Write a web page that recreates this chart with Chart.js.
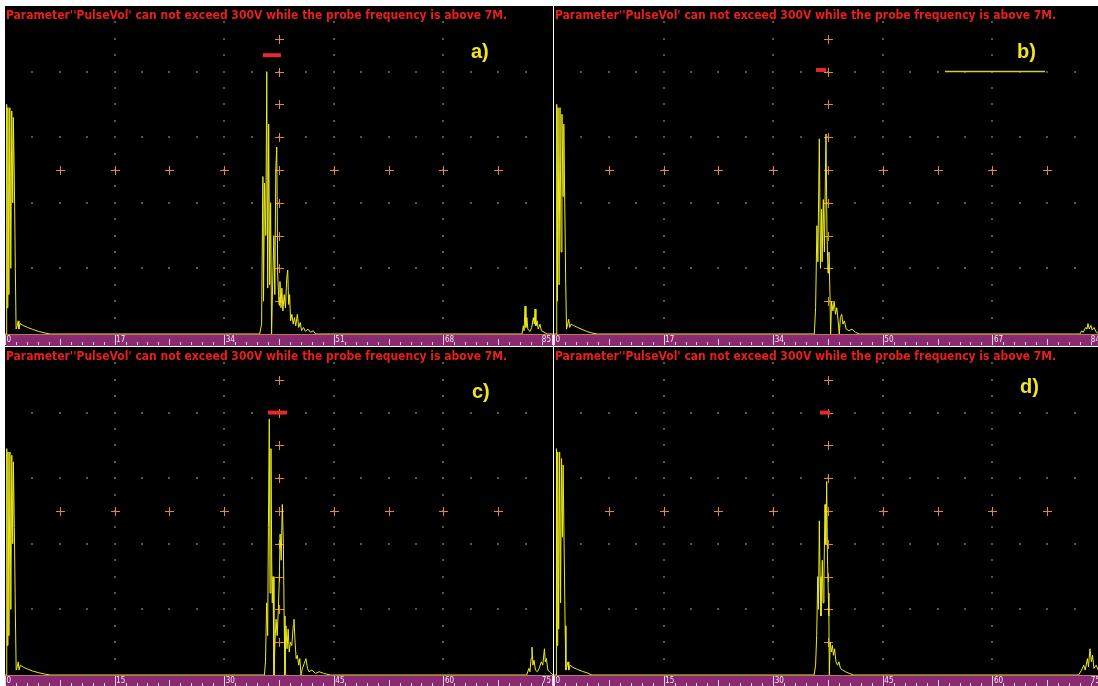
<!DOCTYPE html>
<html>
<head>
<meta charset="utf-8">
<script src="https://cdn.jsdelivr.net/npm/chart.js@4.4.1/dist/chart.umd.min.js"></script>
<style>
  html, body { margin: 0; padding: 0; background: #fff; }
  body { width: 1098px; height: 686px; overflow: hidden; position: relative; }
  canvas { position: absolute; }
</style>
</head>
<body>
<canvas id="scanA" width="554" height="346" style="left:0;top:0"></canvas>
<canvas id="scanB" width="548" height="346" style="left:554px;top:0"></canvas>
<canvas id="scanC" width="554" height="341" style="left:0;top:346px"></canvas>
<canvas id="scanD" width="548" height="341" style="left:554px;top:346px"></canvas>
<script>
// sweep range of each A-scan and the labels printed on its bottom ruler
const rangeA = 85
const rangeB = 84
const rangeC = 75
const rangeD = 75
const ticksA = ['0', '17', '34', '51', '68', '85']
const ticksB = ['0', '17', '34', '50', '67', '84']
const ticksC = ['0', '15', '30', '45', '60', '75']
const ticksD = ['0', '15', '30', '45', '60', '75']

const warning = "Parameter''PulseVol' can not exceed 300V while the probe frequency is above 7M."

// traces: [position, amplitude %]
const pulseA = [[0,0],[0.2,0],[0.26,70],[0.35,8],[0.45,69],[0.6,12],[0.75,69],[0.9,20],[1.05,68],[1.2,40],[1.3,66],[1.45,47],[1.6,20],[1.72,1.5],[1.9,2.5],[2.05,4],[2.15,1.5],[2.35,3.2],[2.8,2.6],[3.5,2],[4.3,1.4],[5.2,0.8],[6.2,0.3],[7.0,0]]
const echoA = [[39.5,0],[39.8,3],[40.0,48],[40.1,10],[40.25,46],[40.45,30],[40.6,80],[40.75,14],[40.9,64],[41.05,15],[41.2,40],[41.35,0],[41.5,14],[41.7,30],[41.85,12],[42.0,50],[42.15,57],[42.3,18],[42.5,9],[42.65,16],[42.8,8],[42.95,14],[43.1,7],[43.3,12],[43.5,8],[43.7,17],[43.85,19.5],[44.0,9],[44.15,12],[44.3,4],[44.5,6],[44.7,3],[44.9,5],[45.1,2.5],[45.35,6],[45.55,2],[45.8,3.5],[46.0,1],[46.3,2],[46.6,0.8],[47.0,1.5],[47.4,0.5],[47.8,1],[48.2,0]]
const backA = [[80.2,0],[80.4,2.5],[80.52,1],[80.66,8.5],[80.8,2],[80.95,5],[81.1,1.5],[81.43,0.8],[81.7,2],[81.95,5],[82.1,3],[82.21,7.6],[82.35,2.5],[82.55,4],[82.7,1.5],[82.98,3],[83.2,1],[83.6,0.6],[84.1,0],[85,0]]

const pulseB = [[0,0],[0.35,0],[0.42,70],[0.52,10],[0.62,69],[0.78,15],[0.92,69],[1.08,25],[1.22,67],[1.38,42],[1.5,64],[1.65,40],[1.8,15],[1.92,1.5],[2.1,3],[2.25,4.5],[2.4,2],[2.6,3],[3.0,2.6],[3.6,2],[4.3,1.4],[5.0,0.8],[5.8,0.3],[6.6,0]]
const echoB = [[39.9,0],[40.1,8],[40.3,33],[40.45,22],[40.67,59.5],[40.85,20],[41.0,38],[41.1,22],[41.28,41],[41.45,25],[41.69,61],[41.85,30],[42.0,18.6],[42.15,25],[42.3,12],[42.4,0],[42.55,10],[42.75,7],[42.95,10],[43.15,6],[43.35,8],[43.55,4],[43.73,0],[43.9,5],[44.1,6],[44.3,3],[44.5,4],[44.8,1.5],[45.2,1],[45.7,1.5],[46.2,0.5],[46.8,0]]
const backB = [[80.6,0],[80.9,1],[81.1,0.5],[81.5,2],[81.7,1.5],[81.85,3.2],[82.05,1.5],[82.3,2.6],[82.5,1.2],[82.77,2],[83.1,0.6],[83.5,0],[84,0]]

const pulseC = [[0,0],[0.18,0],[0.24,69],[0.32,9],[0.41,68],[0.54,12],[0.67,68],[0.8,20],[0.93,67],[1.06,40],[1.15,65],[1.28,45],[1.42,18],[1.53,1.5],[1.68,2.5],[1.82,4],[1.92,1.5],[2.1,3],[2.5,2.4],[3.1,1.8],[3.8,1.2],[4.6,0.7],[5.4,0.3],[6.2,0]]
const echoC = [[35.5,0],[35.65,4],[35.81,22],[35.95,12],[36.05,45],[36.17,78],[36.27,25],[36.4,69],[36.5,35],[36.58,22],[36.68,30],[36.81,0],[36.95,10],[37.1,17],[37.25,12],[37.41,20],[37.55,30],[37.65,43],[37.8,35],[37.95,52],[38.1,40],[38.2,18],[38.32,0],[38.45,15],[38.6,8],[38.75,14],[38.9,7],[39.05,10],[39.25,9],[39.45,15],[39.55,17],[39.7,10],[39.85,5],[40.0,6],[40.2,3],[40.35,5],[40.51,0],[40.7,2],[40.95,3.5],[41.19,5],[41.4,2],[41.6,1],[42.0,1.5],[42.5,0.5],[43.0,1],[43.6,0.5],[44.5,0]]
const backC = [[71.4,0],[71.7,2],[71.85,1],[72.0,5],[72.12,8.5],[72.25,3],[72.4,4.5],[72.6,1.5],[72.85,1],[73.1,2],[73.4,4],[73.6,3],[73.83,8],[73.95,4],[74.1,5],[74.3,1.5],[74.6,0.8],[75,0]]

const pulseD = [[0,0],[0.28,0],[0.34,69],[0.42,9],[0.51,68],[0.64,14],[0.77,68],[0.9,22],[1.03,66],[1.16,42],[1.25,64],[1.38,40],[1.52,15],[1.63,1.5],[1.78,2.8],[1.92,4],[2.02,1.5],[2.2,3],[2.6,2.3],[3.2,1.7],[3.9,1.1],[4.6,0.6],[5.2,0]]
const echoD = [[35.6,0],[35.8,3],[35.95,12],[36.1,30],[36.2,20],[36.31,47],[36.42,30],[36.54,18],[36.65,28],[36.72,35],[36.82,22],[36.95,30],[37.09,52],[37.2,40],[37.32,59],[37.43,35],[37.54,25],[37.62,18],[37.68,0],[37.8,10],[37.95,7],[38.1,9],[38.25,6],[38.4,8],[38.6,4],[38.8,3],[39.0,4],[39.2,2],[39.5,1.5],[39.9,1],[40.4,0.5],[41,0]]
const backD = [[71.8,0],[72.2,1.5],[72.5,3],[72.7,1.5],[73.0,5],[73.15,2.5],[73.35,8],[73.55,4],[73.7,6],[73.9,2],[74.2,3],[74.6,1],[75,0]]

// gate: [start, end, level %]
const gateA = [40.0, 42.8, 85]
const gateB = [40.16, 41.69, 80.5]
const gateC = [35.99, 38.59, 80]
const gateD = [36.4, 37.77, 80]

// cursor line shown in b): [start, end, level %]
const cursorB = [59.93, 75.26, 80]


function toPoints(parts) {
    let pts = []
    parts.forEach(part => {
        part.forEach(p => pts.push({ x: p[0], y: p[1] }))
    })
    return pts
}

function scopePlugin(range, tickLabels, name, nameDx, nameDy) {
    return {
        id: 'scope',
        beforeDraw(chart) {
            const ctx = chart.ctx
            const a = chart.chartArea
            ctx.save()
            ctx.fillStyle = '#000'
            ctx.fillRect(a.left, a.top, a.right - a.left, a.bottom - a.top)
            ctx.fillStyle = '#8a2a70'
            ctx.fillRect(a.left, a.bottom, a.right - a.left, 12)
            ctx.fillStyle = '#b5785a'
            ctx.fillRect(a.left, a.bottom, a.right - a.left, 1)
            ctx.restore()
        },
        beforeDatasetsDraw(chart) {
            const ctx = chart.ctx
            const a = chart.chartArea
            const w = a.right - a.left
            const h = a.bottom - a.top
            ctx.save()
            // dotted graticule
            ctx.fillStyle = '#555'
            for (let k = 1; k <= 4; k++) {
                const gx = a.left + w * k / 5
                const gy = a.top + h * k / 5
                for (let j = 1; j <= 19; j++) {
                    ctx.fillRect(Math.round(gx) - 1, Math.round(a.top + h * j / 20) - 1, 2, 2)
                    ctx.fillRect(Math.round(a.left + w * j / 20) - 1, Math.round(gy) - 1, 2, 2)
                }
            }
            // centre crosses
            ctx.strokeStyle = '#e08a2c'
            ctx.lineWidth = 1
            ctx.beginPath()
            const cx = a.left + w / 2
            const cy = a.top + h / 2
            for (let j = 1; j <= 9; j++) {
                const px = Math.round(cx) + 0.5
                const py = Math.round(a.top + h * j / 10) + 0.5
                ctx.moveTo(px - 4.5, py); ctx.lineTo(px + 4.5, py)
                ctx.moveTo(px, py - 4.5); ctx.lineTo(px, py + 4.5)
                const qx = Math.round(a.left + w * j / 10) + 0.5
                const qy = Math.round(cy) + 0.5
                ctx.moveTo(qx - 4.5, qy); ctx.lineTo(qx + 4.5, qy)
                ctx.moveTo(qx, qy - 4.5); ctx.lineTo(qx, qy + 4.5)
            }
            ctx.stroke()
            ctx.restore()
        },
        afterDraw(chart) {
            const ctx = chart.ctx
            const a = chart.chartArea
            const xs = chart.scales.x
            const b = a.bottom
            ctx.save()
            // ruler ticks
            ctx.strokeStyle = '#e6d2e4'
            ctx.lineWidth = 1
            ctx.beginPath()
            for (let i = 0; i < 5; i++) {
                for (let j = 0; j < 10; j++) {
                    const px = Math.round(xs.getPixelForValue(range * (i + j / 10) / 5)) + 0.5
                    let y0 = b + 8
                    if (j == 0) y0 = b + 1
                    else if (j == 5) y0 = b + 5
                    ctx.moveTo(px, y0)
                    ctx.lineTo(px, b + 11)
                }
            }
            const endX = Math.round(xs.getPixelForValue(range)) - 0.5
            ctx.moveTo(endX, b + 1)
            ctx.lineTo(endX, b + 11)
            ctx.stroke()
            ctx.fillStyle = '#f6eaf4'
            ctx.font = '8px "DejaVu Sans Condensed", "DejaVu Sans"'
            ctx.textBaseline = 'top'
            tickLabels.forEach((lab, i) => {
                const px = xs.getPixelForValue(range * i / 5)
                if (i < 5) {
                    ctx.textAlign = 'left'
                    ctx.fillText(lab, px + 1.5, b + 2)
                } else {
                    ctx.textAlign = 'right'
                    ctx.fillText(lab, px - 2, b + 2)
                }
            })
            // warning message
            ctx.fillStyle = '#ea1f1c'
            ctx.font = 'bold 12px "DejaVu Sans Condensed", "DejaVu Sans"'
            ctx.textAlign = 'left'
            ctx.textBaseline = 'alphabetic'
            ctx.fillText(warning, a.left + 1, a.top + 13, 508)
            // panel name
            ctx.fillStyle = '#f3e41e'
            ctx.font = 'bold 20px "Liberation Sans", Arial'
            ctx.fillText(name, a.left + nameDx, a.top + nameDy)
            ctx.restore()
        }
    }
}

function makeScan(id, range, tickLabels, parts, gate, name, nameDx, nameDy, pad, cursor) {

    let datasets = [{
        data: toPoints(parts),
        borderColor: '#ecea1e',
        borderWidth: 1,
        pointRadius: 0,
        tension: 0
    }, {
        data: [{ x: gate[0], y: gate[2] }, { x: gate[1], y: gate[2] }],
        borderColor: '#e8262c',
        borderWidth: 4,
        borderCapStyle: 'butt',
        pointRadius: 0
    }]

    if (cursor) {
        datasets.push({
            data: [{ x: cursor[0], y: cursor[2] }, { x: cursor[1], y: cursor[2] }],
            borderColor: '#cfcf3a',
            borderWidth: 1.5,
            pointRadius: 0
        })
    }

    new Chart(document.getElementById(id), {
        type: 'line',
        data: { datasets: datasets },
        options: {
            responsive: false,
            animation: false,
            events: [],
            layout: { padding: pad },
            plugins: { legend: { display: false }, tooltip: { enabled: false } },
            scales: {
                x: {
                    type: 'linear',
                    min: 0,
                    max: range,
                    grid: { display: false },
                    border: { display: false },
                    ticks: { display: false },
                    afterFit: s => { s.height = 12 }
                },
                y: { min: 0, max: 100, display: false }
            }
        },
        plugins: [scopePlugin(range, tickLabels, name, nameDx, nameDy)]
    })
}

makeScan('scanA', rangeA, ticksA, [pulseA, echoA, backA], gateA, 'a)', 466, 52, { left: 5, right: 1, top: 6, bottom: 0 })
makeScan('scanB', rangeB, ticksB, [pulseB, echoB, backB], gateB, 'b)', 463, 52, { left: 0, right: 0, top: 6, bottom: 0 }, cursorB)
makeScan('scanC', rangeC, ticksC, [pulseC, echoC, backC], gateC, 'c)', 467, 51, { left: 5, right: 1, top: 1, bottom: 0 })
makeScan('scanD', rangeD, ticksD, [pulseD, echoD, backD], gateD, 'd)', 466, 46, { left: 0, right: 0, top: 1, bottom: 0 })
</script>
</body>
</html>
